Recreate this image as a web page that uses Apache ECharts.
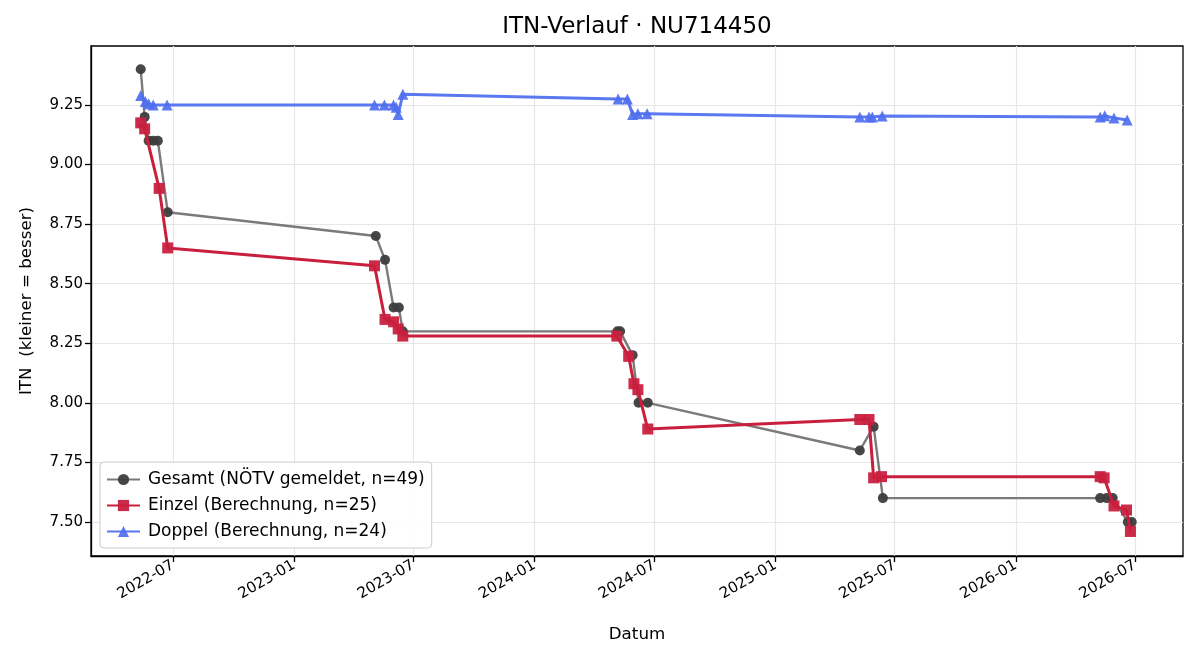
<!DOCTYPE html>
<html>
<head>
<meta charset="utf-8">
<script src="https://cdn.jsdelivr.net/npm/echarts@6/dist/echarts.min.js"></script>
<style>html,body{margin:0;padding:0;background:#fff}#c{width:1200px;height:660px}</style>
</head>
<body>
<div id="c"></div>
<script>
const titleText = 'ITN-Verlauf · NU714450';
const seriesNames = ['Gesamt (NÖTV gemeldet, n=49)', 'Einzel (Berechnung, n=25)', 'Doppel (Berechnung, n=24)'];

const gesamtDates = ['2022-05-13','2022-05-19','2022-05-25','2022-06-01','2022-06-08','2022-06-23',
  '2023-05-05','2023-05-19','2023-06-01','2023-06-09','2023-06-15',
  '2024-05-06','2024-05-10','2024-05-29','2024-06-07','2024-06-21',
  '2025-05-09','2025-05-30','2025-06-13',
  '2026-05-09','2026-05-19','2026-05-28','2026-06-20','2026-06-26'];
const gesamtValues = [9.40,9.20,9.10,9.10,9.10,8.80,
  8.70,8.60,8.40,8.40,8.30,
  8.30,8.30,8.20,8.00,8.00,
  7.80,7.90,7.60,
  7.60,7.60,7.60,7.50,7.50];

const einzelDates = ['2022-05-13','2022-05-19','2022-06-10','2022-06-23',
  '2023-05-03','2023-05-19','2023-06-01','2023-06-08','2023-06-15',
  '2024-05-05','2024-05-23','2024-05-31','2024-06-06','2024-06-21',
  '2025-05-09','2025-05-23','2025-05-30','2025-06-11',
  '2026-05-09','2026-05-15','2026-05-30','2026-06-18','2026-06-24'];
const einzelValues = [9.175,9.15,8.90,8.65,
  8.575,8.35,8.34,8.31,8.28,
  8.28,8.195,8.08,8.055,7.89,
  7.93,7.93,7.685,7.69,
  7.69,7.685,7.567,7.55,7.46];

const doppelDates = ['2022-05-13','2022-05-20','2022-05-25','2022-06-01','2022-06-22',
  '2023-05-03','2023-05-18','2023-06-01','2023-06-05','2023-06-08','2023-06-15',
  '2024-05-07','2024-05-21','2024-05-29','2024-06-06','2024-06-20',
  '2025-05-09','2025-05-23','2025-05-28','2025-06-12',
  '2026-05-09','2026-05-16','2026-05-30','2026-06-19'];
const doppelValues = [9.29,9.265,9.255,9.25,9.25,
  9.25,9.25,9.25,9.24,9.21,9.295,
  9.275,9.275,9.21,9.213,9.213,
  9.20,9.20,9.20,9.204,
  9.20,9.205,9.195,9.187];

const xTickLabels = ['2022-07','2023-01','2023-07','2024-01','2024-07','2025-01','2025-07','2026-01','2026-07'];
const yTicks = [7.50,7.75,8.00,8.25,8.50,8.75,9.00,9.25];

function ts(s){ const p = s.split('-').map(Number); return new Date(p[0], p[1]-1, p[2] || 1).getTime(); }
const xTickValues = xTickLabels.map(ts);
function pairs(d, v){ return d.map((x,i)=>[ts(x), v[i]]); }

const FONT = 'DejaVu Sans';
const chart = echarts.init(document.getElementById('c'), null, {renderer:'canvas'});
chart.setOption({
  animation:false,
  backgroundColor:'#fff',
  title:{ text:titleText, left:637, top:16, textAlign:'center', padding:0,
    textStyle:{fontFamily:FONT, fontSize:23, fontWeight:'normal', color:'#000'} },
  grid:{ left:91, right:17, top:46, bottom:104, show:true, borderColor:'#000', borderWidth:1.3, backgroundColor:'transparent', containLabel:false },
  legend:{ orient:'vertical', left:100, top:462, padding:[9,7,8,6], itemGap:9, itemWidth:33, itemHeight:14,
    backgroundColor:'rgba(255,255,255,0.85)', borderColor:'#cccccc', borderWidth:1, borderRadius:4,
    textStyle:{fontFamily:FONT, fontSize:17, color:'#000', padding:[0,0,0,3]},
    data:seriesNames },
  xAxis:{ type:'value', min:new Date(2022,1,26,12).getTime(), max:new Date(2026,8,11,19).getTime(),
    name:'Datum', nameLocation:'middle', nameGap:70, nameTextStyle:{fontFamily:FONT, fontSize:16.7, color:'#000'},
    axisLine:{show:true, onZero:false, lineStyle:{color:'#000', width:1.3}},
    axisTick:{show:true, length:6, lineStyle:{color:'#000', width:1.3}, customValues:xTickValues},
    axisLabel:{ customValues:xTickValues, rotate:30, margin:8, fontFamily:FONT, fontSize:15, color:'#000',
      formatter:function(v){ const d=new Date(v); const m=d.getMonth()+1; return d.getFullYear()+'-'+(m<10?'0'+m:m); } },
    splitLine:{show:true, lineStyle:{color:'#e6e6e6', width:1.2}} },
  yAxis:{ type:'value', min:7.357, max:9.4976,
    name:'ITN  (kleiner = besser)', nameLocation:'middle', nameGap:56, nameTextStyle:{fontFamily:FONT, fontSize:16.7, color:'#000'},
    axisLine:{show:true, onZero:false, lineStyle:{color:'#000', width:1.3}},
    axisTick:{show:true, length:6, lineStyle:{color:'#000', width:1.3}, customValues:yTicks},
    axisLabel:{ customValues:yTicks, margin:8, fontFamily:FONT, fontSize:15, color:'#000', formatter:function(v){return v.toFixed(2);} },
    splitLine:{show:true, lineStyle:{color:'#e6e6e6', width:1.2}} },
  series:[
    { name:seriesNames[0], type:'line', data:pairs(gesamtDates, gesamtValues), symbol:'circle', symbolSize:10,
      lineStyle:{color:'#7a7a7a', width:2.4}, itemStyle:{color:'#3d3d3d', opacity:0.95}, z:2 },
    { name:seriesNames[1], type:'line', data:pairs(einzelDates, einzelValues), symbol:'rect', symbolSize:11,
      lineStyle:{color:'#c91f3d', width:3}, itemStyle:{color:'#c9203f', opacity:0.95}, z:3 },
    { name:seriesNames[2], type:'line', data:pairs(doppelDates, doppelValues), symbol:'triangle', symbolSize:11,
      lineStyle:{color:'#5a78ef', width:3}, itemStyle:{color:'#4f6ff0', opacity:0.92}, z:4 }
  ]
});
</script>
</body>
</html>
